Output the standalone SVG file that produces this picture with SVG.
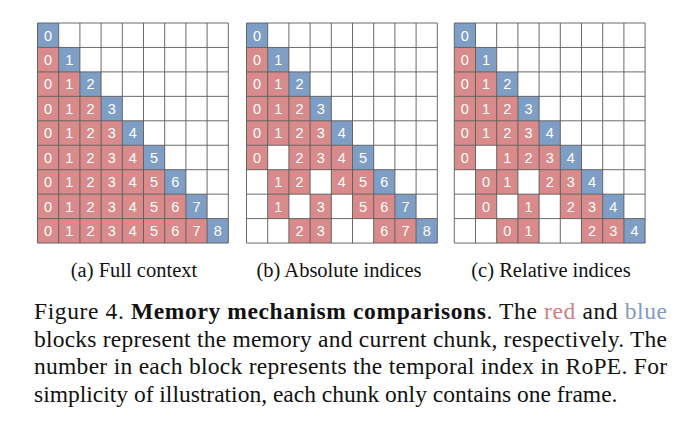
<svg xmlns="http://www.w3.org/2000/svg" xmlns:xlink="http://www.w3.org/1999/xlink" width="698" height="432" viewBox="0 0 698 432">
<style>
.r{fill:#D98A8A}
.b{fill:#7F9EC6}
.n{font-family:"Liberation Sans",Arial,sans-serif;font-size:14.5px;fill:#fff;text-anchor:middle}
.gl{fill:none;stroke:#5a5a5a;stroke-width:0.9}
.sub{font-family:"Liberation Serif","Times New Roman",serif;font-size:20.5px;fill:#111;text-anchor:middle}
.cap{font-family:"Liberation Serif","Times New Roman",serif;font-size:23.5px;fill:#111}
</style>
<defs>
<path id="grid" class="gl" d="M0 0H190.8M0 24.45H190.8M0 48.9H190.8M0 73.35H190.8M0 97.8H190.8M0 122.25H190.8M0 146.7H190.8M0 171.15H190.8M0 195.6H190.8M0 220.05H190.8M0 0V220.05M21.2 0V220.05M42.4 0V220.05M63.6 0V220.05M84.8 0V220.05M106 0V220.05M127.2 0V220.05M148.4 0V220.05M169.6 0V220.05M190.8 0V220.05"/>
</defs>
<rect width="698" height="432" fill="#fff"/>

<g id="grid-a" transform="translate(37.5,23)">
<rect class="b" x="0" y="0" width="21.2" height="24.45"/>
<rect class="r" x="0" y="24.45" width="21.2" height="24.45"/><rect class="b" x="21.2" y="24.45" width="21.2" height="24.45"/>
<rect class="r" x="0" y="48.9" width="42.4" height="24.45"/><rect class="b" x="42.4" y="48.9" width="21.2" height="24.45"/>
<rect class="r" x="0" y="73.35" width="63.6" height="24.45"/><rect class="b" x="63.6" y="73.35" width="21.2" height="24.45"/>
<rect class="r" x="0" y="97.8" width="84.8" height="24.45"/><rect class="b" x="84.8" y="97.8" width="21.2" height="24.45"/>
<rect class="r" x="0" y="122.25" width="106" height="24.45"/><rect class="b" x="106" y="122.25" width="21.2" height="24.45"/>
<rect class="r" x="0" y="146.7" width="127.2" height="24.45"/><rect class="b" x="127.2" y="146.7" width="21.2" height="24.45"/>
<rect class="r" x="0" y="171.15" width="148.4" height="24.45"/><rect class="b" x="148.4" y="171.15" width="21.2" height="24.45"/>
<rect class="r" x="0" y="195.6" width="169.6" height="24.45"/><rect class="b" x="169.6" y="195.6" width="21.2" height="24.45"/>
<use xlink:href="#grid" href="#grid"/>
<text class="n" x="10.6" y="17.5">0</text>
<text class="n" y="41.95"><tspan x="10.6">0</tspan><tspan x="31.8">1</tspan></text>
<text class="n" y="66.4"><tspan x="10.6">0</tspan><tspan x="31.8">1</tspan><tspan x="53">2</tspan></text>
<text class="n" y="90.85"><tspan x="10.6">0</tspan><tspan x="31.8">1</tspan><tspan x="53">2</tspan><tspan x="74.2">3</tspan></text>
<text class="n" y="115.3"><tspan x="10.6">0</tspan><tspan x="31.8">1</tspan><tspan x="53">2</tspan><tspan x="74.2">3</tspan><tspan x="95.4">4</tspan></text>
<text class="n" y="139.75"><tspan x="10.6">0</tspan><tspan x="31.8">1</tspan><tspan x="53">2</tspan><tspan x="74.2">3</tspan><tspan x="95.4">4</tspan><tspan x="116.6">5</tspan></text>
<text class="n" y="164.2"><tspan x="10.6">0</tspan><tspan x="31.8">1</tspan><tspan x="53">2</tspan><tspan x="74.2">3</tspan><tspan x="95.4">4</tspan><tspan x="116.6">5</tspan><tspan x="137.8">6</tspan></text>
<text class="n" y="188.65"><tspan x="10.6">0</tspan><tspan x="31.8">1</tspan><tspan x="53">2</tspan><tspan x="74.2">3</tspan><tspan x="95.4">4</tspan><tspan x="116.6">5</tspan><tspan x="137.8">6</tspan><tspan x="159">7</tspan></text>
<text class="n" y="213.1"><tspan x="10.6">0</tspan><tspan x="31.8">1</tspan><tspan x="53">2</tspan><tspan x="74.2">3</tspan><tspan x="95.4">4</tspan><tspan x="116.6">5</tspan><tspan x="137.8">6</tspan><tspan x="159">7</tspan><tspan x="180.2">8</tspan></text>
</g>

<g id="grid-b" transform="translate(246.5,23)">
<rect class="b" x="0" y="0" width="21.2" height="24.45"/>
<rect class="r" x="0" y="24.45" width="21.2" height="24.45"/><rect class="b" x="21.2" y="24.45" width="21.2" height="24.45"/>
<rect class="r" x="0" y="48.9" width="42.4" height="24.45"/><rect class="b" x="42.4" y="48.9" width="21.2" height="24.45"/>
<rect class="r" x="0" y="73.35" width="63.6" height="24.45"/><rect class="b" x="63.6" y="73.35" width="21.2" height="24.45"/>
<rect class="r" x="0" y="97.8" width="84.8" height="24.45"/><rect class="b" x="84.8" y="97.8" width="21.2" height="24.45"/>
<rect class="r" x="0" y="122.25" width="21.2" height="24.45"/><rect class="r" x="42.4" y="122.25" width="63.6" height="24.45"/><rect class="b" x="106" y="122.25" width="21.2" height="24.45"/>
<rect class="r" x="21.2" y="146.7" width="42.4" height="24.45"/><rect class="r" x="84.8" y="146.7" width="42.4" height="24.45"/><rect class="b" x="127.2" y="146.7" width="21.2" height="24.45"/>
<rect class="r" x="21.2" y="171.15" width="21.2" height="24.45"/><rect class="r" x="63.6" y="171.15" width="21.2" height="24.45"/><rect class="r" x="106" y="171.15" width="42.4" height="24.45"/><rect class="b" x="148.4" y="171.15" width="21.2" height="24.45"/>
<rect class="r" x="42.4" y="195.6" width="42.4" height="24.45"/><rect class="r" x="127.2" y="195.6" width="42.4" height="24.45"/><rect class="b" x="169.6" y="195.6" width="21.2" height="24.45"/>
<use xlink:href="#grid" href="#grid"/>
<text class="n" x="10.6" y="17.5">0</text>
<text class="n" y="41.95"><tspan x="10.6">0</tspan><tspan x="31.8">1</tspan></text>
<text class="n" y="66.4"><tspan x="10.6">0</tspan><tspan x="31.8">1</tspan><tspan x="53">2</tspan></text>
<text class="n" y="90.85"><tspan x="10.6">0</tspan><tspan x="31.8">1</tspan><tspan x="53">2</tspan><tspan x="74.2">3</tspan></text>
<text class="n" y="115.3"><tspan x="10.6">0</tspan><tspan x="31.8">1</tspan><tspan x="53">2</tspan><tspan x="74.2">3</tspan><tspan x="95.4">4</tspan></text>
<text class="n" y="139.75"><tspan x="10.6">0</tspan><tspan x="53">2</tspan><tspan x="74.2">3</tspan><tspan x="95.4">4</tspan><tspan x="116.6">5</tspan></text>
<text class="n" y="164.2"><tspan x="31.8">1</tspan><tspan x="53">2</tspan><tspan x="95.4">4</tspan><tspan x="116.6">5</tspan><tspan x="137.8">6</tspan></text>
<text class="n" y="188.65"><tspan x="31.8">1</tspan><tspan x="74.2">3</tspan><tspan x="116.6">5</tspan><tspan x="137.8">6</tspan><tspan x="159">7</tspan></text>
<text class="n" y="213.1"><tspan x="53">2</tspan><tspan x="74.2">3</tspan><tspan x="137.8">6</tspan><tspan x="159">7</tspan><tspan x="180.2">8</tspan></text>
</g>

<g id="grid-c" transform="translate(454.3,23)">
<rect class="b" x="0" y="0" width="21.2" height="24.45"/>
<rect class="r" x="0" y="24.45" width="21.2" height="24.45"/><rect class="b" x="21.2" y="24.45" width="21.2" height="24.45"/>
<rect class="r" x="0" y="48.9" width="42.4" height="24.45"/><rect class="b" x="42.4" y="48.9" width="21.2" height="24.45"/>
<rect class="r" x="0" y="73.35" width="63.6" height="24.45"/><rect class="b" x="63.6" y="73.35" width="21.2" height="24.45"/>
<rect class="r" x="0" y="97.8" width="84.8" height="24.45"/><rect class="b" x="84.8" y="97.8" width="21.2" height="24.45"/>
<rect class="r" x="0" y="122.25" width="21.2" height="24.45"/><rect class="r" x="42.4" y="122.25" width="63.6" height="24.45"/><rect class="b" x="106" y="122.25" width="21.2" height="24.45"/>
<rect class="r" x="21.2" y="146.7" width="42.4" height="24.45"/><rect class="r" x="84.8" y="146.7" width="42.4" height="24.45"/><rect class="b" x="127.2" y="146.7" width="21.2" height="24.45"/>
<rect class="r" x="21.2" y="171.15" width="21.2" height="24.45"/><rect class="r" x="63.6" y="171.15" width="21.2" height="24.45"/><rect class="r" x="106" y="171.15" width="42.4" height="24.45"/><rect class="b" x="148.4" y="171.15" width="21.2" height="24.45"/>
<rect class="r" x="42.4" y="195.6" width="42.4" height="24.45"/><rect class="r" x="127.2" y="195.6" width="42.4" height="24.45"/><rect class="b" x="169.6" y="195.6" width="21.2" height="24.45"/>
<use xlink:href="#grid" href="#grid"/>
<text class="n" x="10.6" y="17.5">0</text>
<text class="n" y="41.95"><tspan x="10.6">0</tspan><tspan x="31.8">1</tspan></text>
<text class="n" y="66.4"><tspan x="10.6">0</tspan><tspan x="31.8">1</tspan><tspan x="53">2</tspan></text>
<text class="n" y="90.85"><tspan x="10.6">0</tspan><tspan x="31.8">1</tspan><tspan x="53">2</tspan><tspan x="74.2">3</tspan></text>
<text class="n" y="115.3"><tspan x="10.6">0</tspan><tspan x="31.8">1</tspan><tspan x="53">2</tspan><tspan x="74.2">3</tspan><tspan x="95.4">4</tspan></text>
<text class="n" y="139.75"><tspan x="10.6">0</tspan><tspan x="53">1</tspan><tspan x="74.2">2</tspan><tspan x="95.4">3</tspan><tspan x="116.6">4</tspan></text>
<text class="n" y="164.2"><tspan x="31.8">0</tspan><tspan x="53">1</tspan><tspan x="95.4">2</tspan><tspan x="116.6">3</tspan><tspan x="137.8">4</tspan></text>
<text class="n" y="188.65"><tspan x="31.8">0</tspan><tspan x="74.2">1</tspan><tspan x="116.6">2</tspan><tspan x="137.8">3</tspan><tspan x="159">4</tspan></text>
<text class="n" y="213.1"><tspan x="53">0</tspan><tspan x="74.2">1</tspan><tspan x="137.8">2</tspan><tspan x="159">3</tspan><tspan x="180.2">4</tspan></text>
</g>

<g id="subcaptions">
<text class="sub" x="134" y="277">(a) Full context</text>
<text class="sub" x="339" y="277">(b) Absolute indices</text>
<text class="sub" x="551" y="277">(c) Relative indices</text>
</g>

<g id="caption">
<text class="cap" x="34" y="319" textLength="633" lengthAdjust="spacing">Figure 4.  <tspan font-weight="bold">Memory mechanism comparisons</tspan>.  The <tspan fill="#D47F7F">red</tspan> and <tspan fill="#7F9CC8">blue</tspan></text>
<text class="cap" x="34" y="347" textLength="633" lengthAdjust="spacing">blocks represent the memory and current chunk, respectively. The</text>
<text class="cap" x="34" y="374" textLength="633" lengthAdjust="spacing">number in each block represents the temporal index in RoPE. For</text>
<text class="cap" x="34" y="402">simplicity of illustration, each chunk only contains one frame.</text>
</g>
</svg>
